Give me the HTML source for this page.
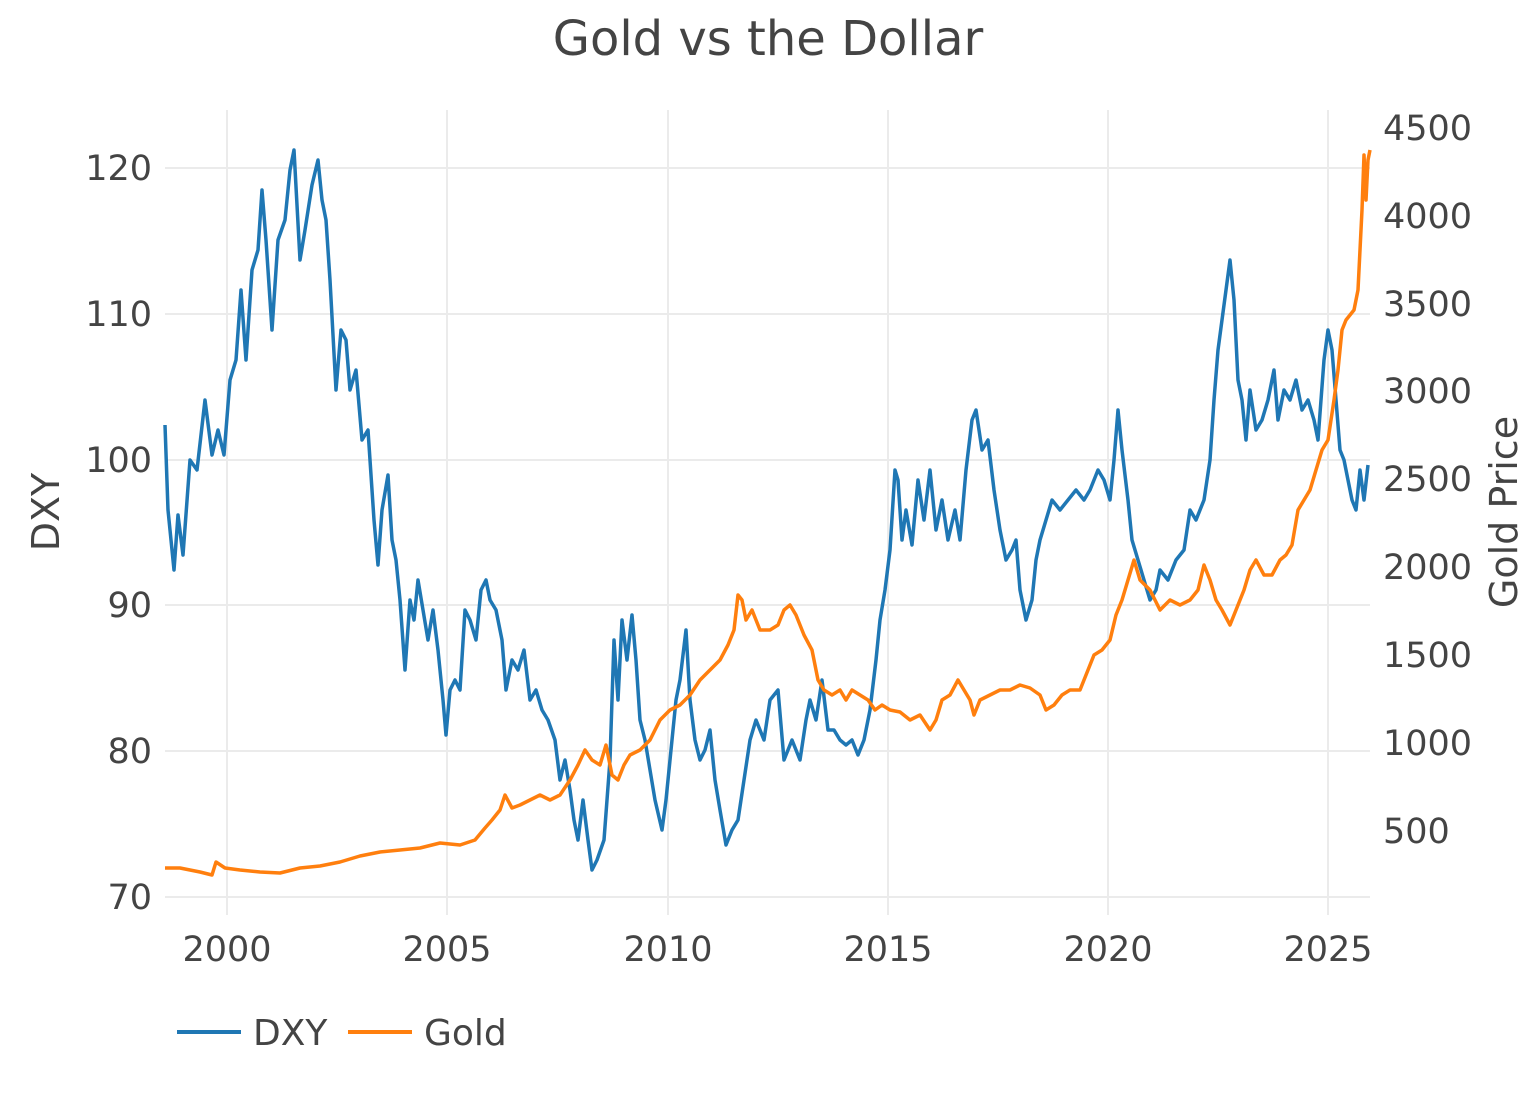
<!DOCTYPE html>
<html><head><meta charset="utf-8"><style>
html,body{margin:0;padding:0;background:#fff;}
svg{display:block;font-family:"DejaVu Sans","Liberation Sans",sans-serif;}
</style></head><body>
<svg width="1536" height="1097" viewBox="0 0 1536 1097">
<rect width="1536" height="1097" fill="#fff"/>
<text x="768" y="55" text-anchor="middle" font-size="48" fill="#444">Gold vs the Dollar</text>
<g stroke="#ebebeb" stroke-width="2">
<line x1="227" y1="110" x2="227" y2="915"/><line x1="447" y1="110" x2="447" y2="915"/>
<line x1="668" y1="110" x2="668" y2="915"/><line x1="888" y1="110" x2="888" y2="915"/>
<line x1="1108" y1="110" x2="1108" y2="915"/><line x1="1328" y1="110" x2="1328" y2="915"/>
<line x1="165" y1="168" x2="1370" y2="168"/><line x1="165" y1="314" x2="1370" y2="314"/>
<line x1="165" y1="460" x2="1370" y2="460"/><line x1="165" y1="605" x2="1370" y2="605"/>
<line x1="165" y1="751" x2="1370" y2="751"/><line x1="165" y1="897" x2="1370" y2="897"/>
</g>
<g font-size="35" fill="#444" text-anchor="end">
<text x="152" y="180">120</text><text x="152" y="326">110</text><text x="152" y="472">100</text>
<text x="152" y="617">90</text><text x="152" y="763">80</text><text x="152" y="909">70</text>
</g>
<g font-size="35" fill="#444" text-anchor="start">
<text x="1383" y="140">4500</text><text x="1383" y="228">4000</text><text x="1383" y="316">3500</text>
<text x="1383" y="403">3000</text><text x="1383" y="491">2500</text><text x="1383" y="579">2000</text>
<text x="1383" y="667">1500</text><text x="1383" y="755">1000</text><text x="1383" y="843">500</text>
</g>
<g font-size="35" fill="#444" text-anchor="middle">
<text x="227" y="961">2000</text><text x="447" y="961">2005</text><text x="668" y="961">2010</text>
<text x="888" y="961">2015</text><text x="1108" y="961">2020</text><text x="1328" y="961">2025</text>
</g>
<text transform="translate(59,512) rotate(-90)" text-anchor="middle" font-size="38" fill="#444">DXY</text>
<text transform="translate(1517,512) rotate(-90)" text-anchor="middle" font-size="38" fill="#444">Gold Price</text>
<polyline fill="none" stroke="#1f77b4" stroke-width="3.5" stroke-linejoin="round" points="165,425 168,510 174,570 178,515 183,555 190,460 197,470 205,400 212,455 218,430 224,455 230,380 236,360 241,290 246,360 252,270 258,250 262,190 266,240 272,330 278,240 285,220 290,170 294,150 300,260 305,230 312,185 318,160 322,200 326,220 330,280 336,390 341,330 346,340 350,390 356,370 362,440 368,430 374,520 378,565 382,510 388,475 392,540 396,560 400,600 405,670 410,600 414,620 418,580 423,610 428,640 433,610 438,650 443,700 446,735 450,690 455,680 460,690 465,610 470,620 476,640 481,590 486,580 490,600 496,610 502,640 506,690 512,660 518,670 524,650 530,700 536,690 542,710 548,720 555,740 560,780 565,760 570,790 574,820 578,840 583,800 588,840 592,870 597,860 604,840 610,760 614,640 618,700 622,620 627,660 632,615 636,660 640,720 645,740 650,770 655,800 662,830 666,800 670,760 676,700 680,680 686,630 690,700 695,740 700,760 705,750 710,730 715,780 720,810 726,845 732,830 738,820 744,780 750,740 756,720 764,740 770,700 778,690 784,760 792,740 800,760 806,720 810,700 816,720 822,680 828,730 834,730 840,740 846,745 852,740 858,755 864,740 870,710 876,660 880,620 885,590 890,550 895,470 898,480 902,540 906,510 912,545 918,480 924,520 930,470 936,530 942,500 948,540 955,510 960,540 966,470 972,420 976,410 982,450 988,440 994,490 1000,530 1006,560 1012,550 1016,540 1020,590 1026,620 1032,600 1036,560 1040,540 1046,520 1052,500 1060,510 1068,500 1076,490 1084,500 1090,490 1098,470 1104,480 1110,500 1114,460 1118,410 1122,450 1128,500 1132,540 1138,560 1144,580 1150,600 1156,590 1160,570 1168,580 1176,560 1184,550 1190,510 1196,520 1204,500 1210,460 1214,400 1218,350 1222,320 1226,290 1230,260 1234,300 1238,380 1242,400 1246,440 1250,390 1256,430 1262,420 1268,400 1274,370 1278,420 1284,390 1290,400 1296,380 1302,410 1308,400 1314,420 1318,440 1324,360 1328,330 1332,350 1336,400 1340,450 1344,460 1348,480 1352,500 1356,510 1360,470 1364,500 1368,465"/>
<polyline fill="none" stroke="#ff7f0e" stroke-width="3.5" stroke-linejoin="round" points="165,868 180,868 200,872 212,875 216,862 225,868 240,870 260,872 280,873 300,868 320,866 340,862 360,856 380,852 400,850 420,848 440,843 460,845 475,840 485,828 492,820 500,810 505,795 512,808 520,805 530,800 540,795 550,800 560,795 570,780 578,765 585,750 592,760 600,765 606,745 612,775 618,780 624,765 630,755 640,750 650,740 660,720 670,710 680,705 690,695 700,680 710,670 720,660 728,645 734,630 738,595 742,600 746,620 752,610 760,630 770,630 778,625 784,610 790,605 796,615 804,635 812,650 818,680 824,690 832,695 840,690 846,700 852,690 860,695 868,700 875,710 882,705 890,710 900,712 910,720 920,715 930,730 936,720 942,700 950,695 958,680 964,690 970,700 974,715 980,700 990,695 1000,690 1010,690 1020,685 1030,688 1040,695 1046,710 1054,705 1062,695 1070,690 1080,690 1088,670 1094,655 1102,650 1110,640 1116,615 1122,600 1128,580 1134,560 1140,580 1150,590 1160,610 1170,600 1180,605 1190,600 1198,590 1204,565 1210,580 1216,600 1222,610 1230,625 1236,610 1244,590 1250,570 1256,560 1264,575 1272,575 1280,560 1286,555 1292,545 1298,510 1304,500 1310,490 1316,470 1322,450 1328,440 1334,400 1338,370 1342,330 1346,320 1350,315 1354,310 1358,290 1362,210 1364,155 1366,200 1368,160 1370,150"/>
<line x1="177" y1="1032" x2="241" y2="1032" stroke="#1f77b4" stroke-width="4"/>
<text x="253" y="1045" font-size="36" fill="#444">DXY</text>
<line x1="348" y1="1032" x2="412" y2="1032" stroke="#ff7f0e" stroke-width="4"/>
<text x="424" y="1045" font-size="36" fill="#444">Gold</text>
</svg>
</body></html>
